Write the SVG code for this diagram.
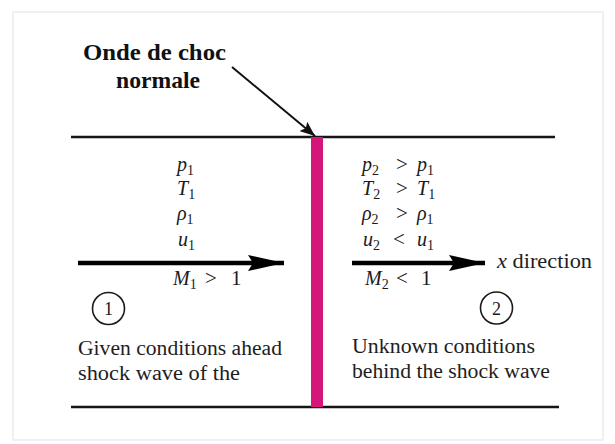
<svg xmlns="http://www.w3.org/2000/svg" width="615" height="444" viewBox="0 0 615 444">
<style>
.wall{stroke:#151515;stroke-width:2.5;fill:none}
.flow{stroke:#000;stroke-width:4.5;fill:none}
.var{font-family:"Liberation Serif","DejaVu Serif",serif;font-style:italic;font-size:20px;fill:#1a1a1a}
.sub{font-size:14px;font-style:normal}
.op{font-family:"Liberation Serif","DejaVu Serif",serif;font-size:21px;fill:#1a1a1a}
.lbl{font-family:"Liberation Serif","DejaVu Serif",serif;font-size:20px;fill:#1e1e1e}
.title{font-family:"Liberation Serif","DejaVu Serif",serif;font-weight:bold;font-size:24px;fill:#111}
.circ{fill:none;stroke:#1a1a1a;stroke-width:1.6}
.num{font-family:"Liberation Serif","DejaVu Serif",serif;font-size:18px;fill:#1a1a1a;text-anchor:middle}
</style>
<defs>
<marker id="head" markerUnits="userSpaceOnUse" markerWidth="38" markerHeight="18" refX="36" refY="8" orient="auto" viewBox="0 0 38 16">
<path d="M0,0 L36,8 L0,16 L5,8 z" fill="#000"/>
</marker>
<marker id="thin" markerUnits="userSpaceOnUse" markerWidth="16" markerHeight="12" refX="15" refY="6" orient="auto" viewBox="0 0 16 12">
<path d="M0,0 L15,6 L0,12 L3,6 z" fill="#111"/>
</marker>
</defs>
<rect x="0" y="0" width="615" height="444" fill="#fff"/>
<rect x="13" y="12" width="590" height="428" fill="none" stroke="#f0f0f0" stroke-width="2"/>

<g id="duct">
<line class="wall" x1="71" y1="137" x2="555" y2="137"/>
<line class="wall" x1="71" y1="407" x2="559" y2="407"/>
</g>

<g id="shock">
<rect x="311" y="137" width="12" height="270" fill="#d4157a"/>
</g>

<g id="connectors">
<line x1="232" y1="67" x2="315" y2="136" stroke="#111" stroke-width="2" marker-end="url(#thin)"/>
<line class="flow" x1="78" y1="263" x2="284" y2="263" marker-end="url(#head)"/>
<line class="flow" x1="352" y1="263" x2="485" y2="263" marker-end="url(#head)"/>
</g>

<g id="shock-label">
<text class="title" x="83" y="60" textLength="143" lengthAdjust="spacingAndGlyphs">Onde de choc</text>
<text class="title" x="116" y="88" textLength="84" lengthAdjust="spacingAndGlyphs">normale</text>
</g>

<g id="region1">
<text class="var" x="177" y="171">p<tspan class="sub" dy="4">1</tspan></text>
<text class="var" x="177" y="195">T<tspan class="sub" dy="4">1</tspan></text>
<text class="var" x="177" y="220">ρ<tspan class="sub" dy="4">1</tspan></text>
<text class="var" x="178" y="246">u<tspan class="sub" dy="4">1</tspan></text>
<text class="var" x="173" y="285">M<tspan class="sub" dy="4">1</tspan></text>
<text class="op" x="205" y="285">&gt;</text>
<text class="op" x="231" y="285">1</text>
<circle class="circ" cx="108.5" cy="308.5" r="16"/>
<text class="num" x="108.5" y="315">1</text>
<text class="lbl" x="78" y="355" textLength="204" lengthAdjust="spacingAndGlyphs">Given conditions ahead</text>
<text class="lbl" x="78" y="380" textLength="162" lengthAdjust="spacingAndGlyphs">shock wave of the</text>
</g>

<g id="region2">
<text class="var" x="362" y="171">p<tspan class="sub" dy="4">2</tspan></text>
<text class="op" x="396" y="171">&gt;</text>
<text class="var" x="417" y="171">p<tspan class="sub" dy="4">1</tspan></text>
<text class="var" x="362" y="195">T<tspan class="sub" dy="4">2</tspan></text>
<text class="op" x="396" y="195">&gt;</text>
<text class="var" x="417" y="195">T<tspan class="sub" dy="4">1</tspan></text>
<text class="var" x="362" y="220">ρ<tspan class="sub" dy="4">2</tspan></text>
<text class="op" x="396" y="220">&gt;</text>
<text class="var" x="417" y="220">ρ<tspan class="sub" dy="4">1</tspan></text>
<text class="var" x="363" y="246">u<tspan class="sub" dy="4">2</tspan></text>
<text class="op" x="393" y="246">&lt;</text>
<text class="var" x="417" y="246">u<tspan class="sub" dy="4">1</tspan></text>
<text class="var" x="365" y="285">M<tspan class="sub" dy="4">2</tspan></text>
<text class="op" x="396" y="285">&lt;</text>
<text class="op" x="421" y="285">1</text>
<text class="lbl" x="497" y="268" textLength="95" lengthAdjust="spacingAndGlyphs"><tspan font-style="italic">x</tspan> direction</text>
<circle class="circ" cx="496.5" cy="308" r="16"/>
<text class="num" x="496.5" y="314.5">2</text>
<text class="lbl" x="352" y="353" textLength="183" lengthAdjust="spacingAndGlyphs">Unknown conditions</text>
<text class="lbl" x="352" y="378" textLength="198" lengthAdjust="spacingAndGlyphs">behind the shock wave</text>
</g>
</svg>
